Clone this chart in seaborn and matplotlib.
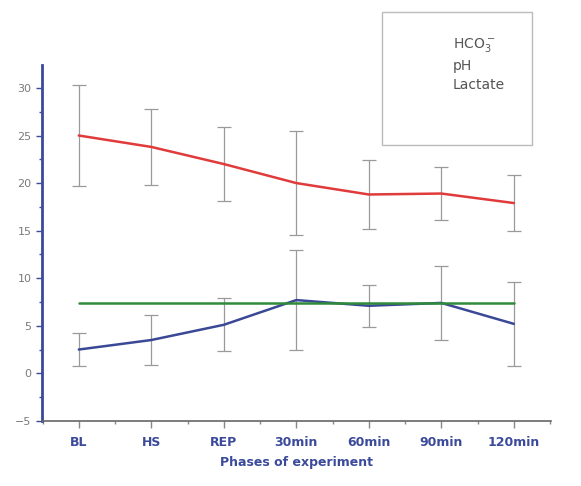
import numpy as np
import pandas as pd
import seaborn as sns
import matplotlib.pyplot as plt
from matplotlib.lines import Line2D
from matplotlib.patches import Rectangle
from matplotlib.ticker import MultipleLocator

phases = ["BL", "HS", "REP", "30min", "60min", "90min", "120min"]

hco3 = [25.0, 23.8, 22.0, 20.0, 18.8, 18.9, 17.9]
hco3_sd = [5.3, 4.0, 3.9, 5.5, 3.6, 2.8, 2.9]

ph = [7.35, 7.35, 7.35, 7.35, 7.35, 7.35, 7.35]

lactate = [2.5, 3.5, 5.1, 7.7, 7.1, 7.4, 5.2]
lactate_sd = [1.7, 2.6, 2.8, 5.3, 2.2, 3.9, 4.4]

blue = "#3b4a9a"
df = pd.DataFrame({"x": np.arange(len(phases)), "hco3": hco3, "ph": ph, "lactate": lactate})

sns.set_style("white")
fig = plt.figure(figsize=(5.81, 4.86), dpi=100)
ax = fig.add_axes([0.072, 0.134, 0.876, 0.732])

# error bars first so the lines sit on top
ax.errorbar(df["x"], hco3, yerr=hco3_sd, fmt="none", ecolor="#9a9a9a", elinewidth=0.9, capsize=5, capthick=0.9)
ax.errorbar(df["x"], lactate, yerr=lactate_sd, fmt="none", ecolor="#9a9a9a", elinewidth=0.9, capsize=5, capthick=0.9)

sns.lineplot(data=df, x="x", y="hco3", color="#e03a3a", lw=1.8, ax=ax)
sns.lineplot(data=df, x="x", y="lactate", color="#3a4896", lw=1.8, ax=ax)
sns.lineplot(data=df, x="x", y="ph", color="#2f8a3a", lw=1.8, ax=ax)

ax.set_xlim(-0.51, 6.51)
ax.set_ylim(-5, 32.4)
ax.set_xticks(range(len(phases)))
ax.set_xticklabels(phases, fontsize=9, fontweight="bold", color=blue)
ax.xaxis.set_minor_locator(MultipleLocator(0.5))
ax.yaxis.set_major_locator(MultipleLocator(5))
ax.yaxis.set_minor_locator(MultipleLocator(2.5))
ax.tick_params(axis="y", which="major", labelsize=8, labelcolor="#7a7a7a", color=blue, length=4, width=1, direction="out", left=True)
ax.tick_params(axis="y", which="minor", color=blue, length=2, width=1, left=True)
ax.tick_params(axis="x", which="major", color="#888888", length=5, width=1, direction="out", bottom=True, pad=6)
ax.tick_params(axis="x", which="minor", color="#888888", length=2.5, width=1, bottom=True)

for s in ["top", "right"]:
    ax.spines[s].set_visible(False)
ax.spines["left"].set_color(blue)
ax.spines["left"].set_linewidth(2)
ax.spines["bottom"].set_color("#666666")
ax.spines["bottom"].set_linewidth(1.2)

ax.set_xlabel("Phases of experiment", fontsize=9, fontweight="bold", color=blue, labelpad=5)
ax.set_ylabel("")

# legend box (taller than its entries, as in the original)
fig.patches.append(Rectangle((0.657, 0.702), 0.259, 0.273, transform=fig.transFigure,
                             facecolor="white", edgecolor="#bbbbbb", lw=1))
handles = [Line2D([], [], color="none") for _ in range(3)]
labels = [r"HCO$_3^-$", "pH", "Lactate"]
leg = fig.legend(handles, labels, loc="upper left", bbox_to_anchor=(0.72, 0.925),
                 frameon=False, fontsize=10, handlelength=2, handletextpad=0.5,
                 borderpad=0, labelspacing=0.35, borderaxespad=0)
for t in leg.get_texts():
    t.set_color("#555555")

fig.savefig("out.png", dpi=100)
